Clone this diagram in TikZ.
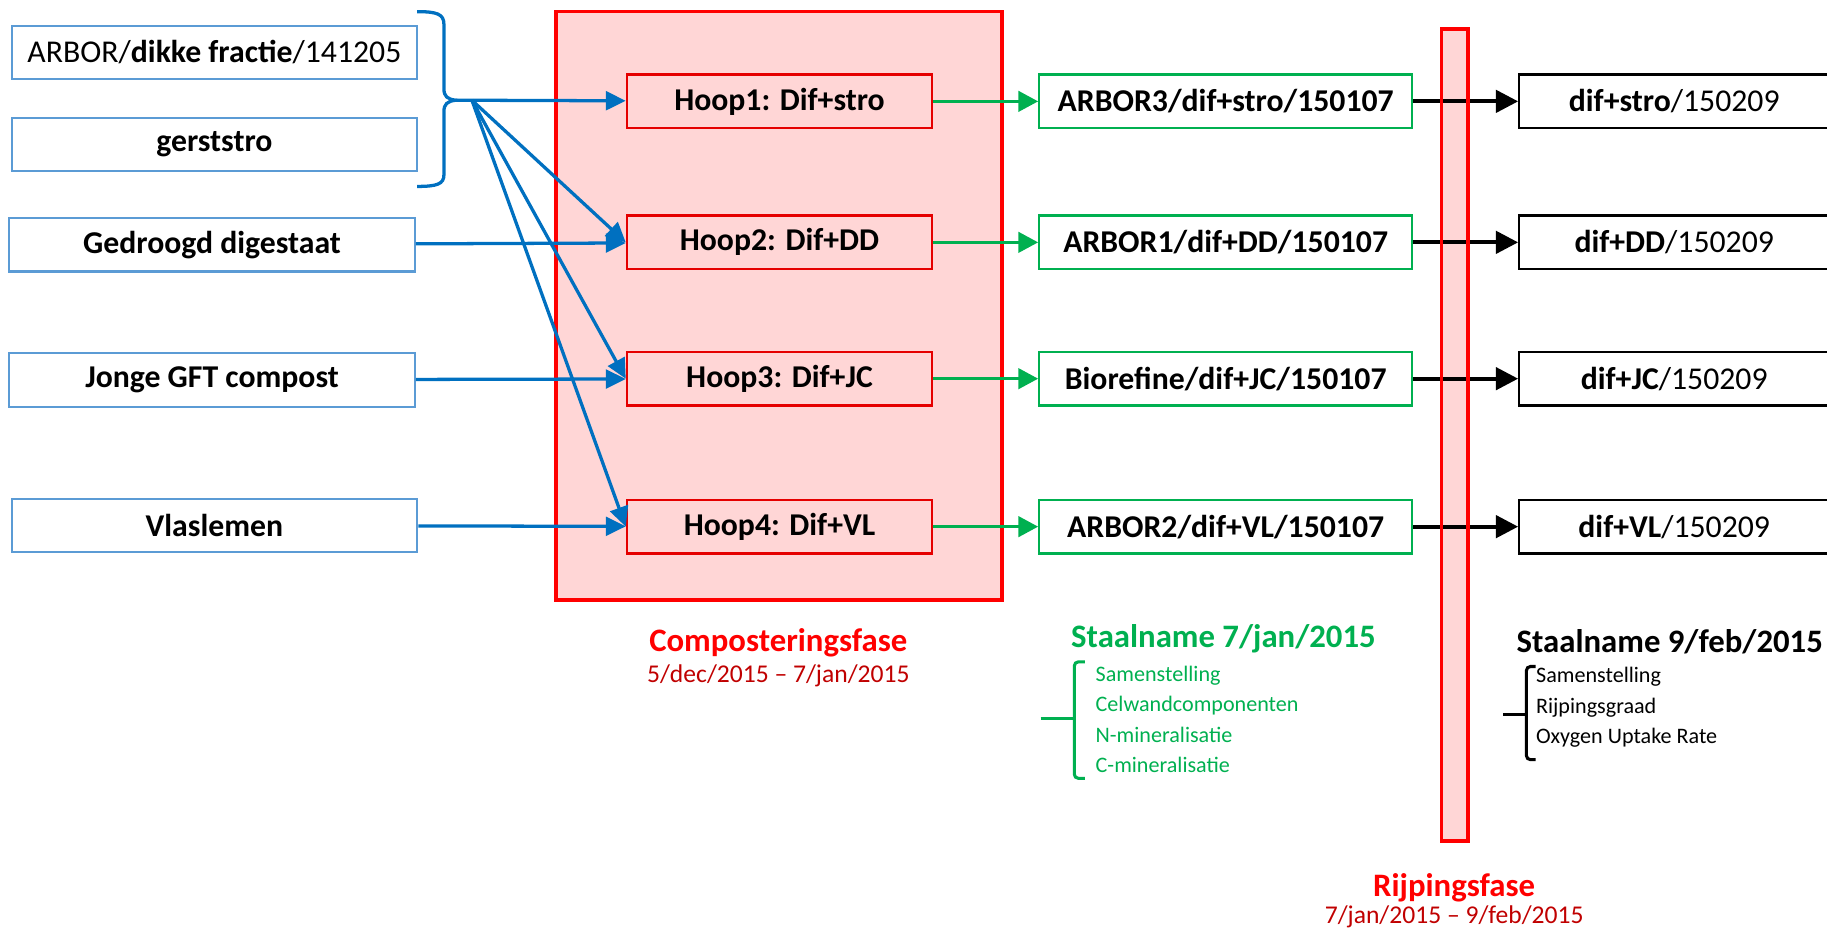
\documentclass[tikz,border=0pt]{standalone}
\usepackage{fontspec}
\setmainfont{Carlito}
\usetikzlibrary{arrows.meta,positioning,calc}
\definecolor{BoxBlue}{HTML}{5B9BD5}
\definecolor{ArrowBlue}{HTML}{0070C0}
\definecolor{PhaseRed}{HTML}{FF0000}
\definecolor{DateRed}{HTML}{C00000}
\definecolor{PhasePink}{RGB}{255,214,214}
\definecolor{SampleGreen}{HTML}{00B050}
\newcommand{\boxfont}{\fontsize{15.5}{18}\selectfont}
\newcommand{\listfont}{\fontsize{10.8}{14.8}\selectfont}
\newcommand{\titlefont}{\fontsize{16}{19}\selectfont\bfseries}
\newcommand{\datefont}{\fontsize{12.5}{15}\selectfont}
\tikzset{
  srcbox/.style={draw=BoxBlue, line width=1.1pt, fill=white, minimum width=6.96cm, minimum height=0.92cm, font=\boxfont},
  hoopbox/.style={draw=PhaseRed!90!black, line width=1.1pt, fill=PhasePink, minimum width=5.24cm, minimum height=0.92cm, font=\boxfont\bfseries},
  stalbox/.style={draw=SampleGreen, line width=1.1pt, fill=white, minimum width=6.4cm, minimum height=0.92cm, font=\boxfont\bfseries},
  eindbox/.style={draw=black, line width=1.1pt, fill=white, minimum width=5.32cm, minimum height=0.92cm, font=\boxfont},
  phase/.style={draw=PhaseRed, line width=1.8pt, fill=PhasePink},
  barr/.style={-{Triangle[length=0.34cm,width=0.32cm]}, line width=1.6pt, draw=ArrowBlue},
  garr/.style={-{Triangle[length=0.34cm,width=0.35cm]}, line width=1.6pt, draw=SampleGreen},
  karr/.style={-{Triangle[length=0.38cm,width=0.38cm]}, line width=1.9pt, draw=black}
}
\begin{document}
\begin{tikzpicture}[node distance=1.8cm]
\useasboundingbox (0,0) rectangle (31.36,-16);
\draw[phase] (9.54,-0.20) rectangle (17.20,-10.30);
\node[srcbox] (arbor) at (3.68,-0.90) {ARBOR/\textbf{dikke fractie}/141205};
\node[srcbox] (gerst) at (3.68,-2.48) {\textbf{gerststro}};
\node[srcbox] (digest) at (3.64,-4.20) {\textbf{Gedroogd digestaat}};
\node[srcbox] (gft) at (3.64,-6.52) {\textbf{Jonge GFT compost}};
\node[srcbox] (vlas) at (3.68,-9.02) {\textbf{Vlaslemen}};
\node[hoopbox] (hoop1) at (13.38,-1.74) {Hoop1: Dif+stro};
\node[hoopbox] (hoop2) at (13.38,-4.16) {Hoop2: Dif+DD};
\node[hoopbox] (hoop3) at (13.38,-6.50) {Hoop3: Dif+JC};
\node[hoopbox] (hoop4) at (13.38,-9.04) {Hoop4: Dif+VL};
\node[stalbox, right=of hoop1] (stal1) {ARBOR3/dif+stro/150107};
\node[stalbox, right=of hoop2] (stal2) {ARBOR1/dif+DD/150107};
\node[stalbox, right=of hoop3] (stal3) {Biorefine/dif+JC/150107};
\node[stalbox, right=of hoop4] (stal4) {ARBOR2/dif+VL/150107};
\node[eindbox, right=of stal1] (eind1) {\textbf{dif+stro}/150209};
\node[eindbox, right=of stal2] (eind2) {\textbf{dif+DD}/150209};
\node[eindbox, right=of stal3] (eind3) {\textbf{dif+JC}/150209};
\node[eindbox, right=of stal4] (eind4) {\textbf{dif+VL}/150209};
\fill[PhasePink] (24.74,-0.50) rectangle (25.20,-14.44);
\draw[ArrowBlue, line width=1.6pt] (7.16,-0.20) .. controls (7.50,-0.20) and (7.62,-0.24) .. (7.62,-0.42) -- (7.62,-1.52) .. controls (7.62,-1.66) and (7.68,-1.70) .. (7.82,-1.72) .. controls (7.68,-1.74) and (7.62,-1.78) .. (7.62,-1.92) -- (7.62,-3.00) .. controls (7.62,-3.16) and (7.50,-3.20) .. (7.16,-3.20);
\coordinate (tip) at (7.82,-1.72);
\coordinate (fan) at (8.10,-1.72);
\draw[barr] (tip) -- (hoop1);
\draw[barr] (fan) -- (hoop2.west);
\draw[barr] (fan) -- (hoop3.west);
\draw[barr] (fan) -- (hoop4.west);
\draw[barr] (digest) -- (hoop2);
\draw[barr] (gft) -- (hoop3);
\draw[barr] (vlas) -- (hoop4);
\foreach \i in {1,2,3,4}{
  \draw[garr] (hoop\i) -- (stal\i);
  \draw[karr] (stal\i) -- (eind\i);
}
\draw[PhaseRed, line width=1.8pt] (24.74,-0.50) rectangle (25.20,-14.44);
\node[text=PhaseRed, font=\titlefont] (compt) at (13.36,-11.04) {Composteringsfase};
\node[text=DateRed, font=\datefont] (compd) at (13.36,-11.60) {5/dec/2015 -- 7/jan/2015};
\node[text=SampleGreen, font=\titlefont] (stalt1) at (21.00,-10.96) {Staalname 7/jan/2015};
\node[text=SampleGreen, font=\listfont, align=left, anchor=west, inner sep=0pt] (glist) at (18.80,-12.35) {Samenstelling\\Celwandcomponenten\\N-mineralisatie\\C-mineralisatie};
\draw[SampleGreen, line width=1.5pt, rounded corners=2pt] (18.62,-11.36) -- (18.44,-11.36) -- (18.44,-13.36) -- (18.62,-13.36);
\draw[SampleGreen, line width=1.5pt] (17.86,-12.34) -- (18.44,-12.34);
\node[font=\titlefont] (stalt2) at (28.66,-11.02) {Staalname 9/feb/2015};
\node[font=\listfont, align=left, anchor=west, inner sep=0pt] (klist) at (26.36,-12.14) {Samenstelling\\Rijpingsgraad\\Oxygen Uptake Rate};
\draw[line width=1.5pt, rounded corners=2pt] (26.36,-11.44) -- (26.20,-11.44) -- (26.20,-13.04) -- (26.36,-13.04);
\draw[line width=1.5pt] (25.80,-12.26) -- (26.20,-12.26);
\node[text=PhaseRed, font=\titlefont] (rijpt) at (24.96,-15.24) {Rijpingsfase};
\node[text=DateRed, font=\datefont] (rijpd) at (24.96,-15.74) {7/jan/2015 -- 9/feb/2015};
\end{tikzpicture}
\end{document}
